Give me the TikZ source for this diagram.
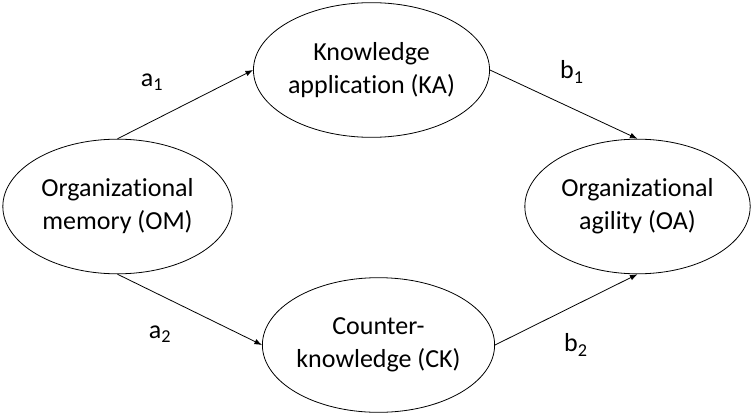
\documentclass[tikz,border=0pt]{standalone}
\usepackage{fontspec}
\setmainfont[Ligatures=NoCommon]{Carlito}
\usepackage{tikz}
\usetikzlibrary{arrows.meta, positioning, shapes.geometric}

\begin{document}
\begin{tikzpicture}[
    x=0.75pt, y=-0.75pt,
    font=\fontsize{19.5}{24.75}\selectfont,
    >={Latex[length=2mm, width=1.5mm]},
    every path/.style={line width=0.6pt},
    construct/.style={
        draw,
        ellipse,
        align=center,
        inner sep=0pt,
        minimum width=172pt,
        minimum height=101pt
    },
    pathlabel/.style={
        inner sep=0pt
    }
]

\useasboundingbox (0,0) rectangle (755,417);

% ==================== Constructs ====================
\node[construct] (om) at (117.5,206.5) {Organizational\\memory (OM)};
\node[construct] (ka) at (371.5,70)    {Knowledge\\application (KA)};
\node[construct] (ck) at (378.5,345)   {Counter-\\knowledge (CK)};
\node[construct, minimum width=169pt] (oa) at (637.5,206.5) {Organizational\\agility (OA)};

% ==================== Paths ====================
\draw[->] (om.north) -- (ka.west);
\draw[->] (om.south) -- (ck.west);
\draw[->] (ka.east) -- (oa.north);
\draw[->] (ck.east) -- (oa.south);

\node[pathlabel] (a1) at (152,82)  {a\textsubscript{1}};
\node[pathlabel] (b1) at (572,72)  {b\textsubscript{1}};
\node[pathlabel] (a2) at (160,334) {a\textsubscript{2}};
\node[pathlabel] (b2) at (576,345) {b\textsubscript{2}};

\end{tikzpicture}
\end{document}
